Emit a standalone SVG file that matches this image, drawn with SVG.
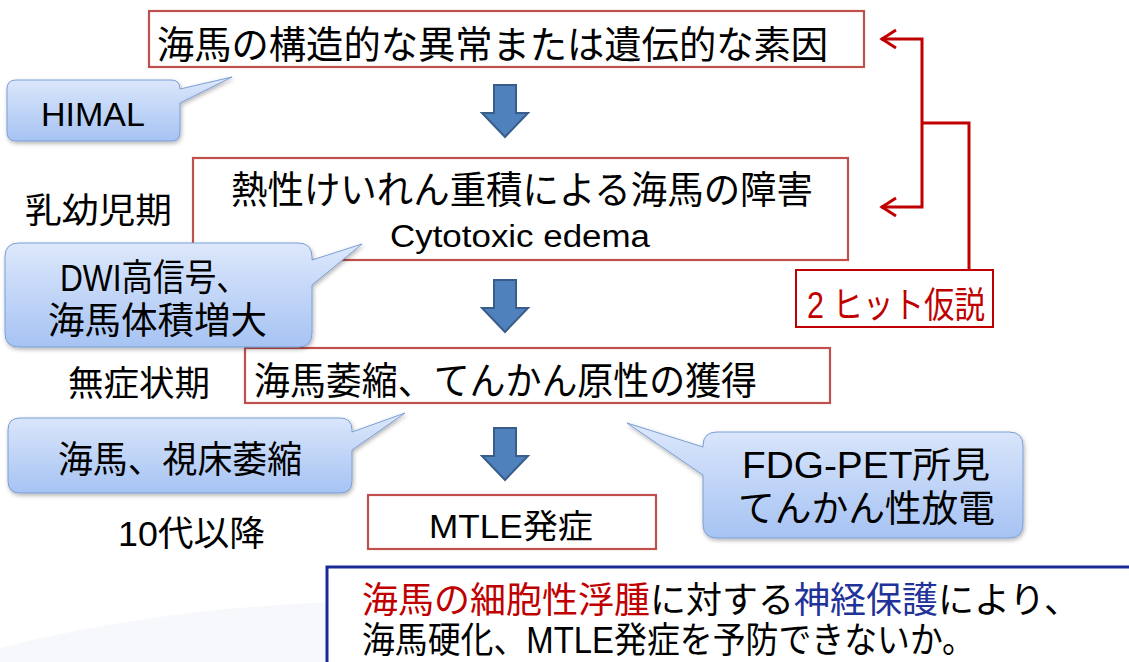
<svg xmlns="http://www.w3.org/2000/svg" width="1129" height="662" viewBox="0 0 1129 662">
<defs>
<style>
.t{font-family:"Liberation Sans","Noto Sans CJK JP",sans-serif;fill:#000}
.box{fill:#fff;stroke:#c0504d;stroke-width:2.2}
.call{fill:url(#cg);stroke:#7b9fd6;stroke-width:1;filter:url(#sh)}
.arr{fill:#4f81bd;stroke:#385d8a;stroke-width:2}
.red{fill:none;stroke:#c00000;stroke-width:3}
</style>
<linearGradient id="cg" x1="0" y1="0" x2="0" y2="1">
<stop offset="0" stop-color="#dde8fb"/>
<stop offset="1" stop-color="#a6c3f3"/>
</linearGradient>
<filter id="sh" x="-10%" y="-10%" width="130%" height="140%">
<feDropShadow dx="1" dy="2" stdDeviation="2" flood-color="#000" flood-opacity="0.3"/>
</filter>
</defs>
<rect width="1129" height="662" fill="#fff"/>
<path d="M0,662 L0,648 Q140,612 310,603 L330,602 L330,662 Z" fill="#f7f8fb"/>

<g id="box1">
<rect class="box" x="149" y="11" width="715" height="56"/>
<text class="t" x="157" y="58" font-size="38" textLength="671" lengthAdjust="spacingAndGlyphs">海馬の構造的な異常または遺伝的な素因</text>
</g>
<g id="box2">
<rect class="box" x="193" y="158" width="655" height="102"/>
<text class="t" x="522" y="203" font-size="38" text-anchor="middle" textLength="582" lengthAdjust="spacingAndGlyphs">熱性けいれん重積による海馬の障害</text>
<text class="t" x="520" y="247" font-size="31" text-anchor="middle" textLength="260" lengthAdjust="spacingAndGlyphs">Cytotoxic edema</text>
</g>
<g id="box3">
<rect class="box" x="245" y="348" width="585" height="55"/>
<text class="t" x="254" y="394" font-size="38" textLength="503" lengthAdjust="spacingAndGlyphs">海馬萎縮、てんかん原性の獲得</text>
</g>
<g id="box4">
<rect class="box" x="368" y="495" width="288" height="54"/>
<text class="t" x="511" y="538" font-size="33" text-anchor="middle" textLength="164" lengthAdjust="spacingAndGlyphs">MTLE発症</text>
</g>

<g id="connectors">
<path class="arr" d="M494,85 H516 V113 H528 L505,137 L482,113 H494 Z"/>
<path class="arr" d="M494,280 H516 V308 H528 L505,332 L482,308 H494 Z"/>
<path class="arr" d="M494,428 H516 V456 H528 L505,480 L482,456 H494 Z"/>
<path class="red" d="M881,39 H922 V207 H881 M922,123 H969 V270"/>
<path class="red" d="M896,30 L882,39 L896,48 M896,198 L882,207 L896,216"/>
</g>

<g id="hit2">
<rect x="796" y="270" width="197" height="57" fill="#fff" stroke="#c00000" stroke-width="2"/>
<text x="807" y="318" font-size="36" fill="#c00000" font-family="Liberation Sans, Noto Sans CJK JP, sans-serif" textLength="178" lengthAdjust="spacingAndGlyphs">2 ヒット仮説</text>
</g>

<g id="labels">
<text class="t" x="25" y="223" font-size="35" textLength="147" lengthAdjust="spacingAndGlyphs">乳幼児期</text>
<text class="t" x="68" y="396" font-size="35" textLength="142" lengthAdjust="spacingAndGlyphs">無症状期</text>
<text class="t" x="118" y="546" font-size="35" textLength="147" lengthAdjust="spacingAndGlyphs">10代以降</text>
</g>

<g id="callout-himal">
<path class="call" d="M16,80 H171 Q180,80 180,89 L232,77 L180,103 V132 Q180,141 171,141 H16 Q7,141 7,132 V89 Q7,80 16,80 Z"/>
<text class="t" x="93" y="126" font-size="34" text-anchor="middle">HIMAL</text>
</g>
<g id="callout-dwi">
<path class="call" d="M19,243 H298 Q312,243 312,257 V260 L362,244 L312,285 V333 Q312,347 298,347 H19 Q5,347 5,333 V257 Q5,243 19,243 Z"/>
<text class="t" x="60" y="291" font-size="37" textLength="188" lengthAdjust="spacingAndGlyphs">DWI高信号、</text>
<text class="t" x="48" y="334" font-size="37" textLength="219" lengthAdjust="spacingAndGlyphs">海馬体積増大</text>
</g>
<g id="callout-atrophy">
<path class="call" d="M20,418 H340 Q352,418 352,430 V432 L405,413 L352,450 V481 Q352,493 340,493 H20 Q8,493 8,481 V430 Q8,418 20,418 Z"/>
<text class="t" x="58" y="473" font-size="37" textLength="244" lengthAdjust="spacingAndGlyphs">海馬、視床萎縮</text>
</g>
<g id="callout-fdg">
<path class="call" d="M717,432 H1009 Q1023,432 1023,446 V524 Q1023,538 1009,538 H717 Q703,538 703,524 V475 L627,423 L703,447 V446 Q703,432 717,432 Z"/>
<text class="t" x="742" y="478" font-size="36" textLength="248" lengthAdjust="spacingAndGlyphs">FDG-PET所見</text>
<text class="t" x="738" y="522" font-size="37" textLength="257" lengthAdjust="spacingAndGlyphs">てんかん性放電</text>
</g>

<g id="conclusion">
<rect x="327" y="567" width="830" height="120" fill="#fff" stroke="#1a2a96" stroke-width="3"/>
<text class="t" y="613" font-size="36"><tspan x="362" fill="#c00000">海馬の細胞性浮腫</tspan><tspan fill="#000">に対する</tspan><tspan fill="#1f3399">神経保護</tspan><tspan fill="#000">により、</tspan></text>
<text class="t" x="362" y="653" font-size="36" textLength="613" lengthAdjust="spacingAndGlyphs">海馬硬化、MTLE発症を予防できないか。</text>
</g>
</svg>
